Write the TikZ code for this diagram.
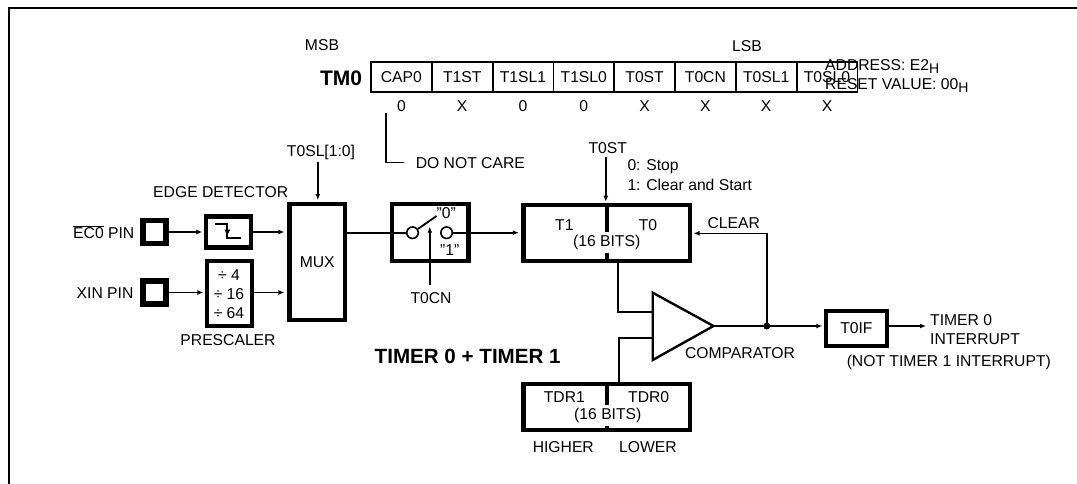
\documentclass[tikz,border=0pt]{standalone}
\usepackage{fontspec}
\setmainfont{Liberation Sans}
\usetikzlibrary{arrows.meta,calc}
\newcommand{\subH}{\raisebox{-2.5pt}{\fontsize{14}{14}\selectfont H}}
\begin{document}
\begin{tikzpicture}[x=1pt,y=-1pt,
      every node/.style={font=\fontsize{15.7}{18}\selectfont,inner sep=0pt},
      heavybox/.style={draw,line width=4.3pt,inner sep=0pt},
      pinbox/.style={draw,line width=5.8pt,minimum width=23pt,minimum height=23pt},
      cellbox/.style={draw,line width=1.8pt,minimum width=60.8pt,minimum height=30pt},
      wire/.style={line width=1.6pt},
      flow/.style={line width=1.6pt,-{Latex[length=6pt,width=5pt]},shorten >=1.5pt},
      bitslabel/.style={fill=white,minimum height=21pt}
    ]
      \useasboundingbox (0,0) rectangle (1077,484);
      \draw[line width=2pt] (9,484) -- (9,7.7) -- (1077,7.7);

      % register
      \node at (322,45) {MSB};
      \node at (747,45.7) {LSB};
      \node[font=\fontsize{21}{24}\selectfont\bfseries] at (341,78.3) {TM0};
      \foreach \nodeName/\cellText/\cellVal [count=\i from 0] in
        {cap/CAP0/0,tst/T1ST/X,tslb/T1SL1/0,tsla/T1SL0/0,zst/T0ST/X,zcn/T0CN/X,zslb/T0SL1/X,zsla/T0SL0/X}
      {
        \node[cellbox] (\nodeName) at ({401.4+60.8*\i},77) {\cellText};
        \node at ({401.4+60.8*\i},105.7) {\cellVal};
      }
      \node[anchor=west] (addr) at (825,66.7) {ADDRESS: E2\subH};
      \node[anchor=west] (rstval) at (825,85.7) {RESET VALUE: 00\subH};
      \coordinate (carefrom) at (385.7,112.7);
      \node[anchor=west] (care) at (415.6,162.7) {DO NOT CARE};
      \draw[wire,shorten >=12pt] (carefrom) |- (care.west);

      % inputs
      \node[pinbox] (ecpin) at (154.6,232) {};
      \node[pinbox] (xinpin) at (154.6,292.5) {};
      \node[anchor=east] at (134.5,232) {$\overline{\mbox{EC0}}$ PIN};
      \node[anchor=east] at (133.6,292.7) {XIN PIN};
      \node[heavybox,minimum width=45pt,minimum height=31pt] (edge) at (228.5,232) {};
      \node at (220.7,191.7) {EDGE DETECTOR};
      \draw[line width=1.8pt] (215,223.7) -- (227.3,223.7) -- (227.3,237.7) -- (241,237.7);
      \draw[line width=1.8pt,-{Latex[length=6.5pt,width=6.5pt]}] (227.3,223.7) -- (227.3,236);
      \node[heavybox,minimum width=45pt,minimum height=64.5pt,align=center] (presc) at (229.5,293.5) {};
      \node at (229,275) {÷ 4};
      \node at (229,294) {÷ 16};
      \node at (229,313) {÷ 64};
      \node at (228,340.3) {PRESCALER};

      % mux and switch
      \node[heavybox,minimum width=55.3pt,minimum height=116.6pt] (mux) at (317.2,262) {MUX};
      \node at (321,152.7) {T0SL[1:0]};
      \coordinate (muxin) at (317.8,162);
      \draw[flow] (muxin) -- (muxin |- mux.north);
      \node[heavybox,minimum width=76.6pt,minimum height=57pt] (switch) at (430.1,232.2) {};
      \node[draw,circle,line width=1.6pt,minimum size=11.5pt] (polea) at (412.5,232.7) {};
      \node[draw,circle,line width=1.6pt,minimum size=11.5pt] (poleb) at (446.6,232.7) {};
      \coordinate (leverend) at (436.6,216);
      \draw[line width=1.8pt] (polea) -- (leverend);
      \node at (446.3,212.7) {"0"};
      \node at (449.7,250.3) {"1"};
      \node (tcn) at (431,298.3) {T0CN};
      \coordinate (tcnfrom) at (429.8,285);
      \coordinate (tcnto) at (429.8,226.7);
      \draw[wire,-{Latex[length=6pt,width=5pt]}] (tcnfrom) -- (tcnto);

      % timer
      \node[heavybox,minimum width=166.5pt,minimum height=56pt] (timer) at (606.7,233.3) {};
      \draw[line width=4.3pt] (timer.north) -- (timer.south);
      \node at (564.4,225) {T1};
      \node at (648,225) {T0};
      \node[bitslabel] at (606.7,242.3) {(16 BITS)};
      \node (tst) at (607.8,148.3) {T0ST};
      \coordinate (tstfrom) at (605.8,157.3);
      \draw[flow] (tstfrom) -- (tstfrom |- timer.north);
      \node[anchor=west] at (627.3,166.7) {0: Stop};
      \node[anchor=west] at (627.3,184.7) {1: Clear and Start};

      % data register
      \node[heavybox,minimum width=166.5pt,minimum height=46.3pt] (tdr) at (606.7,406.8) {};
      \draw[line width=4.3pt] (tdr.north) -- (tdr.south);
      \node at (564.4,397.3) {TDR1};
      \node at (648.7,397.3) {TDR0};
      \node[bitslabel] at (607.8,415.7) {(16 BITS)};
      \node at (563.3,447.3) {HIGHER};
      \node at (648,447.3) {LOWER};

      % comparator
      \coordinate (cmptop) at (652.7,292.7);
      \coordinate (cmpbot) at (652.7,360);
      \coordinate (cmptip) at (713.5,326);
      \draw[line width=2.4pt,line join=miter] (cmptop) -- (cmptip) -- (cmpbot) -- cycle;
      \coordinate (cmpina) at (652.7,311.7);
      \coordinate (cmpinb) at (652.7,337.7);
      \coordinate (timerout) at (618,261.3);
      \coordinate (tdrout) at (619,383.7);
      \draw[wire] (timerout) |- (cmpina);
      \draw[wire] (tdrout) |- (cmpinb);
      \node at (740,353.3) {COMPARATOR};
      \node[heavybox,minimum width=60.8pt,minimum height=35.6pt] (tif) at (856.4,328.5) {T0IF};
      \fill (766.8,326) circle (3.5pt) coordinate (junction);
      \draw[flow] (cmptip) -- (junction) -- (junction -| tif.west);
      \draw[flow] (junction) |- (timer.east);
      \node at (733.7,223.3) {CLEAR};

      % output
      \node[anchor=west] (tintr) at (930,320.3) {TIMER 0};
      \node[anchor=west] at (930,339.3) {INTERRUPT};
      \node at (948.8,362.7) {(NOT TIMER 1 INTERRUPT)};
      \coordinate (tifout) at (926,326);
      \draw[line width=1.6pt,-{Latex[length=6pt,width=5pt]}] (tif.east |- tifout) -- (tifout);

      % flow between blocks
      \draw[flow] (ecpin.east) -- (edge.west);
      \draw[flow] (xinpin.east) -- (xinpin.east -| presc.west);
      \draw[flow,shorten >=3pt] (edge.east) -- (edge.east -| mux.west);
      \draw[flow,shorten >=3pt] (presc.east |- xinpin) -- (xinpin -| mux.west);
      \draw[wire] (mux.east |- polea) -- (polea.west);
      \draw[flow,shorten >=2.5pt] (poleb.east) -- (poleb -| timer.west);

      \node[font=\fontsize{20.6}{24}\selectfont\bfseries] at (467.7,356) {TIMER 0 + TIMER 1};
    \end{tikzpicture}
\end{document}
